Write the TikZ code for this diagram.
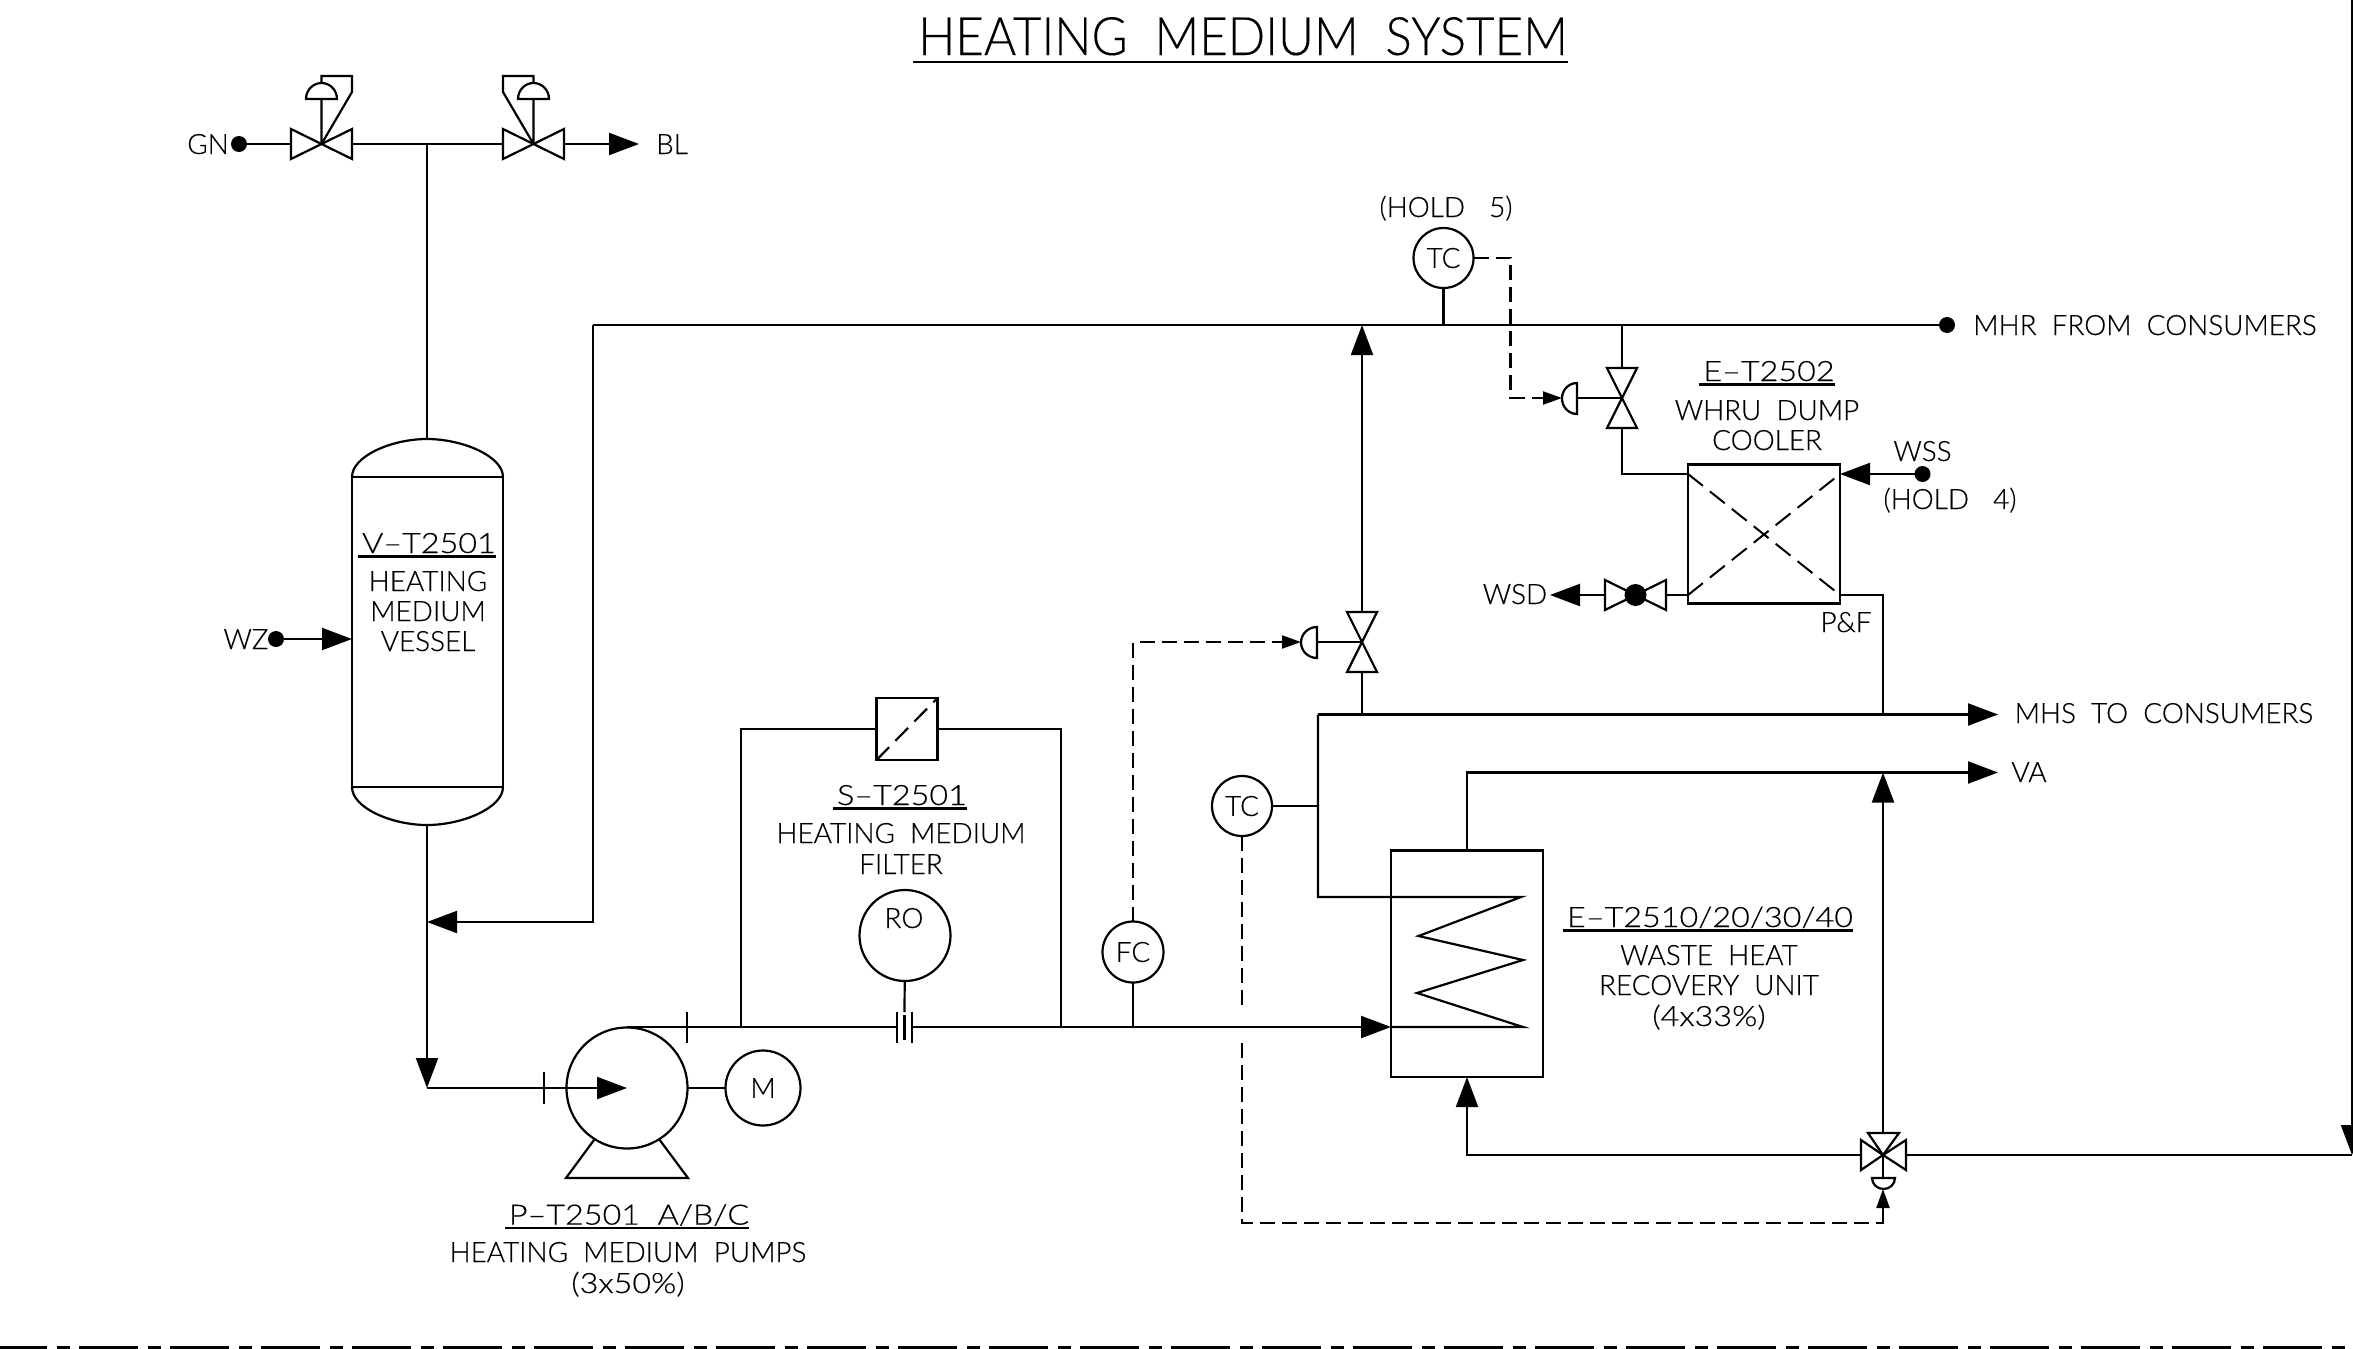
\documentclass[tikz,border=0pt]{standalone}
\usepackage{fontspec}
\setmainfont[FakeStretch=0.995,FakeBold=0.4]{Lato Light}
\newfontfamily\titlefont[FakeStretch=0.93,FakeBold=0.2]{Lato Light}
\newfontfamily\tagfont[FakeStretch=1.155,FakeBold=0.4]{Lato Light}
\usetikzlibrary{arrows.meta}
\tikzset{
  pipe/.style={line width=2.2pt,line join=miter},
  sig/.style={line width=2.2pt,dash pattern=on 15pt off 7pt},
  arr/.style={-{Triangle[length=30pt,width=22pt]}},
  sarr/.style={-{Triangle[length=19pt,width=13pt]}},
  txt/.style={anchor=base,inner sep=0pt,outer sep=0pt,font=\fontsize{28}{30}\selectfont},
  inst/.style={circle,draw,line width=2.2pt,inner sep=0pt,outer sep=0pt,font=\fontsize{28}{30}\selectfont},
  dotn/.style={circle,fill=black,inner sep=0pt,outer sep=0pt,minimum size=16pt},
  boxn/.style={rectangle,draw,line width=2.2pt,inner sep=0pt,outer sep=0pt},
  bown/.style={rectangle,inner sep=0pt,outer sep=0pt}
}
\newcommand\TT[4]{\node[txt] (#1) at (#2,{#3+10}) {#4};}
\newcommand\UU[4]{\TT{#1}{#2}{#3}{\tagfont #4}\draw[line width=2.2pt] ([xshift=-4pt,yshift=-3.4pt]#1.base west) -- ([yshift=-3.4pt]#1.base east);}
\newcommand\bowH[3]{\node[bown,minimum width=61pt,minimum height=30pt] (#1) at (#2,#3) {};
  \draw[pipe] (#1.north west) -- (#1.south east) -- (#1.north east) -- (#1.south west) -- cycle;}
\newcommand\bowV[3]{\node[bown,minimum width=30pt,minimum height=60pt] (#1) at (#2,#3) {};
  \draw[pipe] (#1.north west) -- (#1.north east) -- (#1.south west) -- (#1.south east) -- cycle;}
\begin{document}
\begin{tikzpicture}[x=1pt,y=-1pt]
\clip (0,0) rectangle (2353,1349);
\fill[white] (0,0) rectangle (2353,1349);
% title
\node[anchor=base,inner sep=0pt,font=\titlefont\fontsize{53}{56}\selectfont] (title) at (1243,55) {HEATING~~MEDIUM~~SYSTEM};
\draw[line width=2.4pt] (913,62) -- (1568,62);
% vent / blanket valves
\node[dotn] (gn) at (239,144) {};
\TT{gnt}{208}{144}{GN}
\bowH{va}{321.5}{144}
\bowH{vb}{533.5}{144}
\coordinate (bltip) at (639,144);
\TT{blt}{672}{144}{BL}
\coordinate (jt) at (427,144);
\draw[pipe] (gn) -- (va.west);
\draw[pipe] (va.east) -- (vb.west);
\draw[pipe,arr] (vb.east) -- (bltip);
\draw[pipe] (va.center) -- (321.5,99) (321.5,83) -- (321.5,76) -- (352,76) -- (352,92) -- (va.center);
\draw[pipe] (306,99) arc[start angle=180,end angle=0,x radius=15.5pt,y radius=16pt] -- cycle;
\draw[pipe] (vb.center) -- (533.5,99) (533.5,83) -- (533.5,76) -- (503,76) -- (503,92) -- (vb.center);
\draw[pipe] (518,99) arc[start angle=180,end angle=0,x radius=15.5pt,y radius=16pt] -- cycle;
% vessel
\node[boxn,minimum width=151pt,minimum height=310pt] (vessel) at (427.5,632) {};
\coordinate (vtop) at (427,439);
\coordinate (vbot) at (427,825);
\draw[pipe] (vessel.north west) .. controls (352,456) and (392,439) .. (vtop) .. controls (462,439) and (503,456) .. (vessel.north east);
\draw[pipe] (vessel.south west) .. controls (352,808) and (392,825) .. (vbot) .. controls (462,825) and (503,808) .. (vessel.south east);
\draw[pipe] (jt) -- (vtop);
\UU{vt}{429}{543}{V–T2501}
\TT{vt1}{428}{581}{HEATING}
\TT{vt2}{428}{611}{MEDIUM}
\TT{vt3}{428}{641}{VESSEL}
\node[dotn] (wz) at (276,639) {};
\TT{wzt}{246}{639}{WZ}
\coordinate (wztip) at (352,639);
\draw[pipe,arr] (wz) -- (wztip);
% suction
\coordinate (corner) at (427,1088);
\coordinate (retj) at (427,922);
\coordinate (retc) at (593,922);
\coordinate (mhrc) at (593,325);
\draw[pipe,arr] (vbot) -- (corner);
\node[dotn] (mhr) at (1947,325) {};
\draw[pipe] (mhr) -- (mhrc);
\draw[pipe,arr] (mhrc) -- (retc) -- (retj);
\TT{mhrt}{2145}{325}{MHR~~FROM~~CONSUMERS}
% pump
\node[inst,minimum size=121pt] (pump) at (627,1088) {};
\node[inst,minimum size=75pt] (motor) at (763,1088) {M};
\draw[pipe,arr] (corner) -- (pump.center);
\draw[pipe] (pump) -- (motor);
\draw[pipe] (594,1140) -- (566,1178) -- (688,1178) -- (659,1139);
\draw[pipe] (544,1072) -- (544,1104);
\draw[pipe] (687,1012) -- (687,1043);
\UU{pt}{629}{1214.6}{P–T2501~~A/B/C}
\TT{pt1}{628}{1252}{HEATING~~MEDIUM~~PUMPS}
\TT{pt2}{628}{1283}{\tagfont (3x50\%)}
% discharge and filter
\coordinate (disch) at (627,1027);
\coordinate (orl) at (897,1027);
\coordinate (orr) at (912,1027);
\coordinate (fl) at (741,1027);
\coordinate (fr) at (1061,1027);
\coordinate (fj) at (1133,1027);
\coordinate (whin) at (1391,1027);
\draw[pipe] (disch) -- (orl);
\draw[pipe,arr] (orr) -- (whin);
\draw[pipe] (897,1012) -- (897,1043) (912,1012) -- (912,1043) (904.5,1015) -- (904.5,1040);
\node[boxn,minimum width=61pt,minimum height=62pt] (filt) at (907,729) {};
\draw[pipe] (fl) -- (741,729) -- (filt.west);
\draw[pipe] (filt.east) -- (1061,729) -- (fr);
\draw[line width=2.2pt,dash pattern=on 18pt off 9pt] (filt.south west) -- (filt.north east);
\UU{st}{902}{795}{S–T2501}
\TT{st1}{901}{833}{HEATING~~MEDIUM}
\TT{st2}{901}{864}{FILTER}
\node[inst,minimum size=91pt] (ro) at (905,935.5) {};
\TT{rot}{904}{918}{RO}
\coordinate (rob) at (904.5,1012);
\draw[pipe] (ro) -- (rob);
\node[inst,minimum size=61pt] (fc) at (1133,952) {FC};
\draw[pipe] (fc) -- (fj);
% flow control valve
\bowV{fcv}{1362}{642}
\coordinate (fcvtip) at (1301,642);
\coordinate (fcvc) at (1133,642);
\draw[sig] (fc) -- (fcvc) -- (1282,642);
\draw[pipe,sarr] (1275,642) -- (fcvtip);
\draw[pipe] (1317,627) arc[start angle=90,end angle=270,x radius=16pt,y radius=15.5pt] -- cycle;
\draw[pipe] (1317,642) -- (fcv.center);
\coordinate (mainj) at (1362,714.5);
\coordinate (mhrj) at (1362,325);
\draw[pipe] (mainj) -- (fcv.south);
\draw[pipe,arr] (fcv.north) -- (mhrj);
% TC top
\node[inst,minimum size=60pt] (tc1) at (1443.5,258) {TC};
\coordinate (tc1j) at (1443.5,325);
\draw[pipe] (tc1) -- (tc1j);
\TT{h5}{1446}{207}{(HOLD~~\hspace{9pt}5)}
% dump cooler valve
\bowV{dcv}{1622}{398}
\coordinate (dcvtip) at (1562,398);
\draw[sig] (tc1) -- (1510.5,258) -- (1510.5,398) -- (1542,398);
\draw[pipe,sarr] (1535,398) -- (dcvtip);
\draw[pipe] (1577,383) arc[start angle=90,end angle=270,x radius=15pt,y radius=15.5pt] -- cycle;
\draw[pipe] (1577,398) -- (dcv.center);
\coordinate (dcj) at (1622,325);
\draw[pipe] (dcj) -- (dcv.north);
% cooler
\node[boxn,minimum width=152pt,minimum height=139pt] (cool) at (1764,534) {};
\coordinate (cnw) at (1688,474);
\coordinate (cne) at (1840,474);
\coordinate (csw) at (1688,595);
\coordinate (cse) at (1840,595);
\draw[line width=2pt,dash pattern=on 19pt off 9pt] (cnw) -- (cse) (csw) -- (cne);
\draw[pipe] (dcv.south) -- (1622,474) -- (cnw);
\node[dotn] (wss) at (1922.5,474) {};
\draw[pipe,arr] (wss) -- (cne);
\TT{wsst}{1922.5}{451}{WSS}
\TT{h4}{1950}{499}{(HOLD~~\hspace{9pt}4)}
\UU{et}{1769}{371}{E–T2502}
\TT{et1}{1767}{410}{WHRU~~DUMP}
\TT{et2}{1767}{440}{COOLER}
\node[bown,minimum width=61pt,minimum height=30pt] (wsv) at (1635.5,595) {};
\draw[pipe] (wsv.north west) -- (wsv.south east) -- (wsv.north east) -- (wsv.south west) -- cycle;
\fill (wsv.center) circle[radius=11pt];
\draw[pipe] (csw) -- (wsv.east);
\coordinate (wsdtip) at (1550,595);
\draw[pipe,arr] (wsv.west) -- (wsdtip);
\TT{wsdt}{1515}{594}{WSD}
\TT{pf}{1846}{622}{P\&F}
\coordinate (mhsj) at (1883,714.5);
\draw[pipe] (cse) -- (1883,595) -- (mhsj);
% MHS
\coordinate (mhsc) at (1318,714.5);
\coordinate (mhstip) at (1998,714.5);
\draw[pipe,arr] (mhsc) -- (mhstip);
\TT{mhst}{2164}{713}{MHS~~TO~~CONSUMERS}
% WHRU
\node[boxn,minimum width=152pt,minimum height=226.5pt] (whru) at (1467,963.8) {};
\draw[pipe] (mhsc) -- (1318,897) -- (1521,897) -- (1418.5,936) -- (1523,960) -- (1417,993) -- (1523,1027) -- (whin);
\coordinate (vatip) at (1998,772.5);
\coordinate (vaj) at (1883,772.5);
\draw[pipe,arr] (whru.north) -- (1467,772.5) -- (vatip);
\TT{vat}{2029}{772}{VA}
\UU{wt}{1710}{917}{E–T2510/20/30/40}
\TT{wt1}{1709}{955}{WASTE~~HEAT}
\TT{wt2}{1709}{985}{RECOVERY~~UNIT}
\TT{wt3}{1709}{1016}{\tagfont (4x33\%)}
% TC lower
\node[inst,minimum size=60pt] (tc2) at (1242,806) {TC};
\coordinate (tc2j) at (1318,806);
\draw[pipe] (tc2) -- (tc2j);
\coordinate (tc2a) at (1242,1009);
\coordinate (tc2b) at (1242,1043);
\draw[sig] (tc2) -- (tc2a);
\draw[sig] (tc2b) -- (1242,1223) -- (1883,1223) -- (1883,1208);
% three-way valve
\coordinate (twv) at (1883,1155);
\draw[pipe] (twv) -- (1868,1133) -- (1899,1133) -- cycle;
\draw[pipe] (twv) -- (1861,1140) -- (1861,1170) -- cycle;
\draw[pipe] (twv) -- (1906,1140) -- (1906,1170) -- cycle;
\draw[pipe] (twv) -- (1883,1178);
\draw[pipe] (1872,1178) -- (1895,1178) arc[start angle=0,end angle=-180,x radius=11.5pt,y radius=11pt] -- cycle;
\coordinate (twvtip) at (1883,1189);
\draw[pipe,sarr] (1883,1215) -- (twvtip);
\coordinate (whbot) at (1467,1077);
\draw[pipe,arr] (1861,1155) -- (1467,1155) -- (whbot);
\draw[pipe,arr] (1883,1133) -- (vaj);
\coordinate (edge) at (2352,1155);
\draw[pipe] (1906,1155) -- (edge);
\draw[pipe,arr] (2352,0) -- (edge);
% sheet border
\draw[line width=3.5pt,dash pattern=on 59pt off 10pt on 13pt off 9pt] (-12,1348) -- (2365,1348);
\end{tikzpicture}
\end{document}
